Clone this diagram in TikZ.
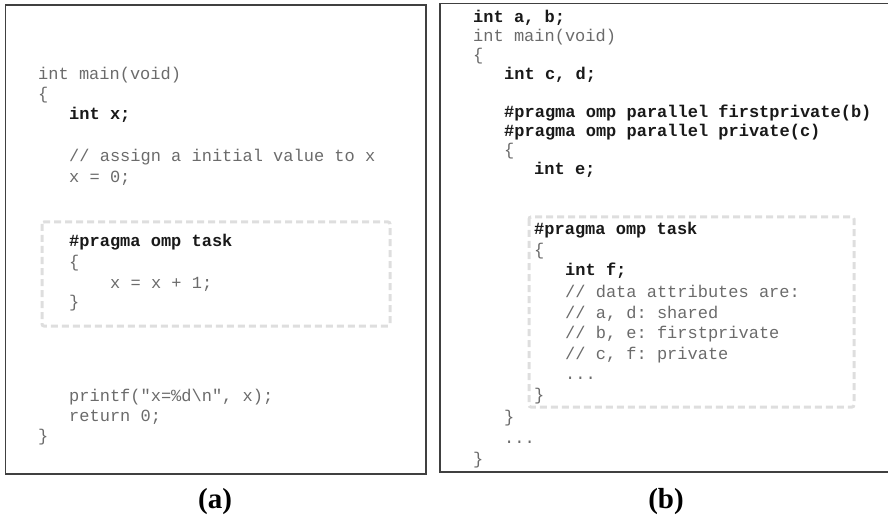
\documentclass[tikz,border=0pt]{standalone}
\usepackage{fontspec}
\setmainfont{Liberation Serif}
\setmonofont{Liberation Mono}

\tikzset{
    codeline/.style={anchor=base west, inner sep=0pt, text=black!58,
        font=\ttfamily\fontsize{17}{20}\selectfont},
    codebold/.style={anchor=base west, inner sep=0pt, text=black!90,
        font=\ttfamily\bfseries\fontsize{17}{20}\selectfont},
    frame/.style={draw=black!75, line width=1.6pt},
    taskbox/.style={draw=black!13, line width=3pt, dash pattern=on 7pt off 4pt, rounded corners=2pt},
    caption/.style={font=\bfseries\fontsize{29}{32}\selectfont}
}

\begin{document}
\begin{tikzpicture}[x=1pt, y=-1pt]
                \useasboundingbox (0,0) rectangle (888,521);
                
                \draw[frame] (5.5,5) rectangle (426,474);
                \draw[frame] (888,3.5) -- (440,3.5) -- (440,472) -- (888,472);
                
                % task regions
                \draw[taskbox] (42,222) rectangle (390,326);
                \draw[taskbox] (529,217) rectangle (854,407);
                
                \foreach \x/\y/\t [count=\i] in {38/80/{int main(void)}, 38/100/{\{},
                    69/162/{// assign a initial value to x}, 69/183/{x = 0;},
                    69/268/{\{}, 110/288/{x = x + 1;}, 69/307/{\}},
                    69/401/{printf("x=\%d\textbackslash n", x);}, 69/421/{return 0;}, 38/441/{\}}} {
                    \node[codeline] (na\i) at (\x,\y) {\t};
                }
                \foreach \x/\y/\t [count=\i] in {69/120/{int x;}, 69/247/{\#pragma omp task}} {
                    \node[codebold] (ba\i) at (\x,\y) {\t};
                }
                
                \foreach \x/\y/\t [count=\i] in {473/42/{int main(void)}, 473/61/{\{}, 504/156/{\{},
                    534/255/{\{}, 565/297/{// data attributes are:}, 565/318/{// a, d: shared},
                    565/338/{// b, e: firstprivate}, 565/359/{// c, f: private}, 565/379/{...},
                    534/400/{\}}, 504/422/{\}}, 504/443/{...}, 473/464/{\}}} {
                    \node[codeline] (nb\i) at (\x,\y) {\t};
                }
                \foreach \x/\y/\t [count=\i] in {473/23/{int a, b;}, 504/80/{int c, d;},
                    504/118/{\#pragma omp parallel firstprivate(b)},
                    504/137/{\#pragma omp parallel private(c)}, 534/175/{int e;},
                    534/235/{\#pragma omp task}, 565/276/{int f;}} {
                    \node[codebold] (bb\i) at (\x,\y) {\t};
                }
                
                \node[caption] (capa) at (215,502) {(a)};
                \node[caption] (capb) at (666,502) {(b)};
            \end{tikzpicture}
\end{document}
